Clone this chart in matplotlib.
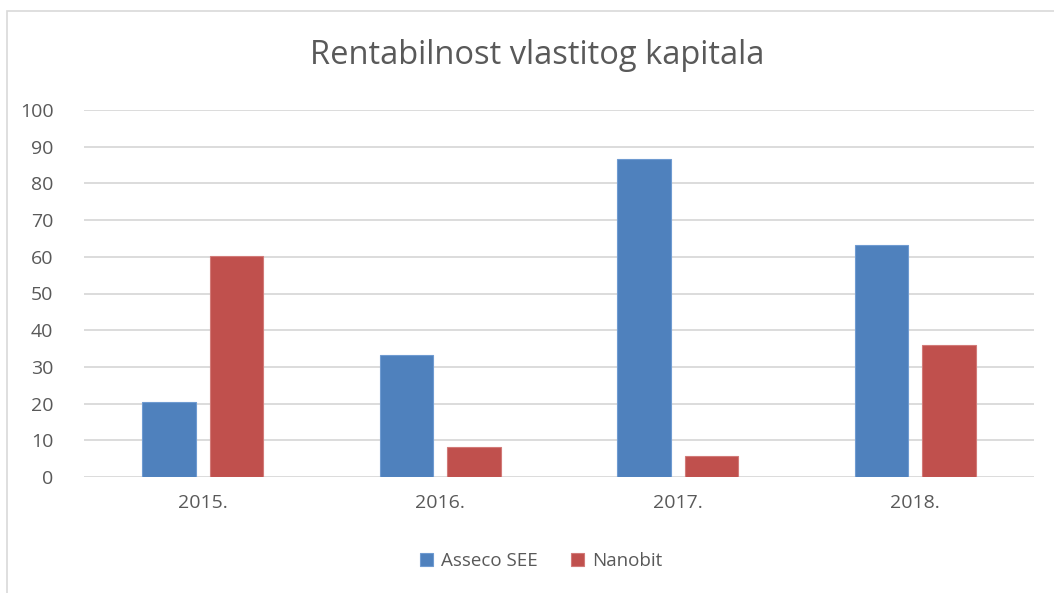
import numpy as np
import matplotlib.pyplot as plt
from matplotlib.patches import Rectangle

# Data
years = ['2015.', '2016.', '2017.', '2018.']
asseco = [20.4, 33.2, 86.6, 63.1]
nanobit = [60.1, 8.2, 5.7, 35.9]

blue = '#4f81bd'
red = '#c0504d'
text_col = '#595959'

plt.rcParams['font.family'] = ['Open Sans', 'DejaVu Sans']

fig = plt.figure(figsize=(10.54, 5.93), dpi=100)
W, H = 1054, 593

# chart frame (runs off the right and bottom edges)
fig.patches.append(Rectangle((7 / W, -0.2), 1.2, 1.2 - 11 / H, transform=fig.transFigure,
                             fill=False, edgecolor='#d9d9d9', linewidth=1.2))

ax = fig.add_axes([84 / W, 1 - 477 / H, 950 / W, 367 / H])

x = np.arange(len(years))
w = 0.227
off = 0.142
ax.bar(x - off, asseco, w, color=blue, edgecolor='#6f9bd1', linewidth=0.8, label='Asseco SEE', zorder=3)
ax.bar(x + off, nanobit, w, color=red, edgecolor='#d27a78', linewidth=0.8, label='Nanobit', zorder=3)

ax.set_xlim(-0.5, 3.5)
ax.set_ylim(0, 100)
ax.set_yticks(range(0, 101, 10))
ax.set_xticks(x)
ax.set_xticklabels(years)
ax.grid(axis='y', color='#d9d9d9', linewidth=1.3, zorder=0)
for s in ax.spines.values():
    s.set_visible(False)
ax.tick_params(axis='both', length=0, labelsize=14, labelcolor=text_col)
ax.tick_params(axis='y', pad=22)
ax.tick_params(axis='x', pad=12)

fig.text(537 / W, 1 - 56 / H, 'Rentabilnost vlastitog kapitala', ha='center', va='center',
         fontsize=23.5, color=text_col)

fig.legend(loc='center', bbox_to_anchor=(541 / W, 1 - 561 / H), ncol=2, frameon=False,
           fontsize=13.5, handlelength=0.7, handleheight=0.7, columnspacing=1.8,
           handletextpad=0.4, labelcolor=text_col)

fig.savefig('out.png', dpi=100)
